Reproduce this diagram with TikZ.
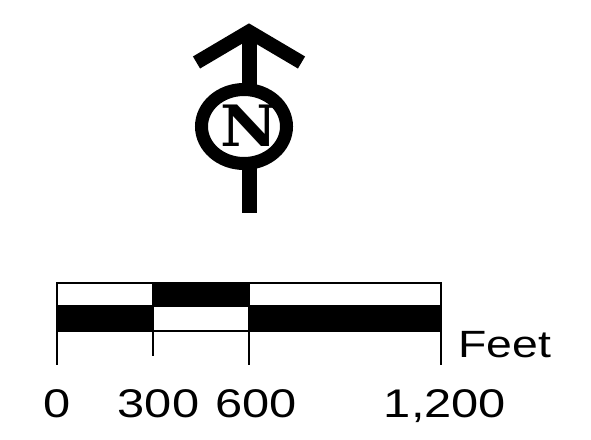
\documentclass[tikz,border=0pt]{standalone}
\usepackage{fontspec}
\newfontfamily\barfont[FakeStretch=1.22]{Liberation Sans}
\newfontfamily\northfont[FakeStretch=1.1]{DejaVu Serif}
\usepackage{tikz}

\begin{document}
\begin{tikzpicture}[x=1pt,y=-1pt,
  bar/.style={line width=2.5pt},
  lbl/.style={anchor=base,inner sep=0pt,font=\barfont\fontsize{40}{48}\selectfont}]
\useasboundingbox (0,0) rectangle (591,439);
% north arrow
\coordinate (tip) at (249,31.5);
\coordinate (foot) at (249,213);
\draw[line width=15pt] (tip) -- (foot);
\draw[line width=14pt,miter limit=10] (196.5,62.5) -- (tip) -- (301.5,62.5);
\draw[line width=13pt,fill=white] (244,126.5) ellipse [x radius=42.5,y radius=37];
\node (north) [font=\northfont\fontsize{57}{60}\selectfont\bfseries] at (249,126) {N};
% scale bar
\fill (57,306) rectangle (153,331);
\fill (153,283) rectangle (249,306);
\fill (249,306) rectangle (441,331);
\draw[bar] (57,283) rectangle (441,331);
\draw[bar] (57,306) -- (441,306);
\foreach \x in {57,249,441}
  \draw[bar] (\x,283) -- (\x,365);
\draw[bar] (153,283) -- (153,356);
\node (zero) [lbl] at (57.5,417) {0};
\node (three) [lbl] at (158.5,417) {300};
\node (six) [lbl] at (256,417) {600};
\node (twelve) [lbl] at (445,417) {1,200};
\node (feet) [lbl,anchor=base west,font=\barfont\fontsize{38}{46}\selectfont] at (458,357) {Feet};
\end{tikzpicture}
\end{document}
